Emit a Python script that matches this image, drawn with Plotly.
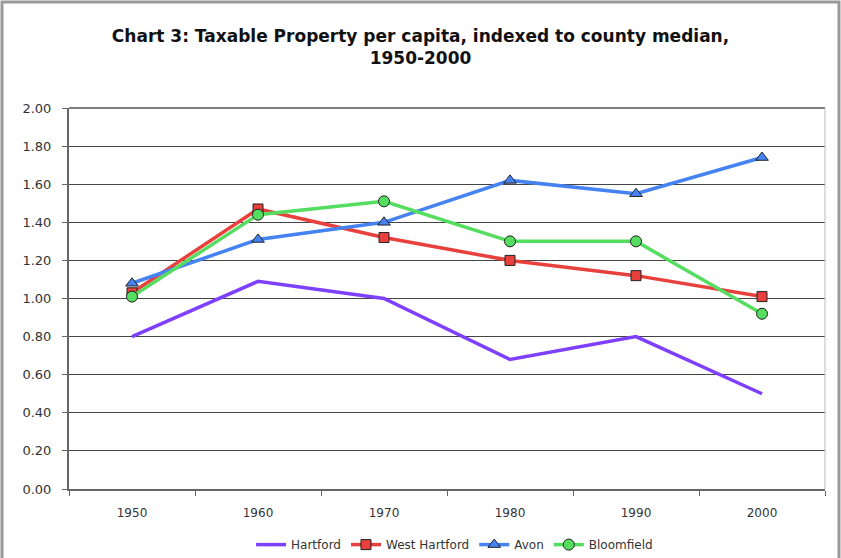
import plotly.graph_objects as go

# Data ================================================================================================================
years = ["1950", "1960", "1970", "1980", "1990", "2000"]
hartford = [0.80, 1.09, 1.00, 0.68, 0.80, 0.50]
west_hartford = [1.03, 1.47, 1.32, 1.20, 1.12, 1.01]
avon = [1.08, 1.31, 1.40, 1.62, 1.55, 1.74]
bloomfield = [1.01, 1.44, 1.51, 1.30, 1.30, 0.92]

y_ticks = [0.0, 0.2, 0.4, 0.6, 0.8, 1.0, 1.2, 1.4, 1.6, 1.8, 2.0]

# Figure ==============================================================================================================
fig = go.Figure()

fig.add_trace(go.Scatter(x=years, y=hartford, name="Hartford", mode="lines",
                         line=dict(color="#7F3FFF", width=3.5)))
fig.add_trace(go.Scatter(x=years, y=west_hartford, name="West Hartford", mode="lines+markers",
                         line=dict(color="#E8403C", width=3.5),
                         marker=dict(symbol="square", size=10, color="#E8403C",
                                     line=dict(color="#222222", width=1))))
fig.add_trace(go.Scatter(x=years, y=avon, name="Avon", mode="lines+markers",
                         line=dict(color="#4683F2", width=3.5),
                         marker=dict(symbol="triangle-up", size=11, color="#4683F2",
                                     line=dict(color="#222222", width=1))))
fig.add_trace(go.Scatter(x=years, y=bloomfield, name="Bloomfield", mode="lines+markers",
                         line=dict(color="#55DD5F", width=3.5),
                         marker=dict(symbol="circle", size=11, color="#55DD5F",
                                     line=dict(color="#222222", width=1))))

fig.update_layout(
    width=841, height=558,
    margin=dict(l=69, r=16, t=108, b=69, autoexpand=False),
    paper_bgcolor="white", plot_bgcolor="white",
    font=dict(family="DejaVu Sans", size=12, color="#333333"),
    title=dict(text="<b>Chart 3: Taxable Property per capita, indexed to county median,<br>1950-2000</b>",
               x=0.5, xanchor="center", y=0.925, yanchor="top",
               font=dict(family="DejaVu Sans", size=17, color="#111111")),
    showlegend=True,
    legend=dict(orientation="h", x=0.51, xanchor="center", yref="container", y=0.024, yanchor="middle",
                font=dict(size=12, color="#333333"), tracegroupgap=0),
    shapes=[
        dict(type="rect", xref="paper", yref="paper", x0=-0.0886, x1=1.0185, y0=-0.3, y1=1.278,
             line=dict(color="#999999", width=3), layer="below"),
        dict(type="line", xref="paper", yref="paper", x0=1, x1=1, y0=0, y1=1,
             line=dict(color="#BBBBBB", width=1)),
        dict(type="line", xref="paper", yref="paper", x0=0, x1=1, y0=1, y1=1,
             line=dict(color="#555555", width=1.5), layer="below"),
    ],
)

fig.update_xaxes(
    type="category", tickson="boundaries", ticks="outside", ticklen=5, tickcolor="#666666",
    showline=True, linecolor="#666666", linewidth=2, showgrid=False, ticklabelstandoff=12,
    tickfont=dict(size=12, color="#333333"), range=[-0.5, 5.5],
)
fig.update_yaxes(
    range=[0, 2.0], tickvals=y_ticks, tickformat=".2f", ticks="outside", ticklen=5,
    tickcolor="#666666", showline=True, linecolor="#666666", linewidth=2,
    showgrid=True, gridcolor="#444444", gridwidth=1.2, zeroline=False, ticklabelstandoff=8,
    tickfont=dict(size=13, color="#333333"),
)

fig.write_html("out.html", config={"displayModeBar": False},
               post_script="document.body.style.margin='0';")
